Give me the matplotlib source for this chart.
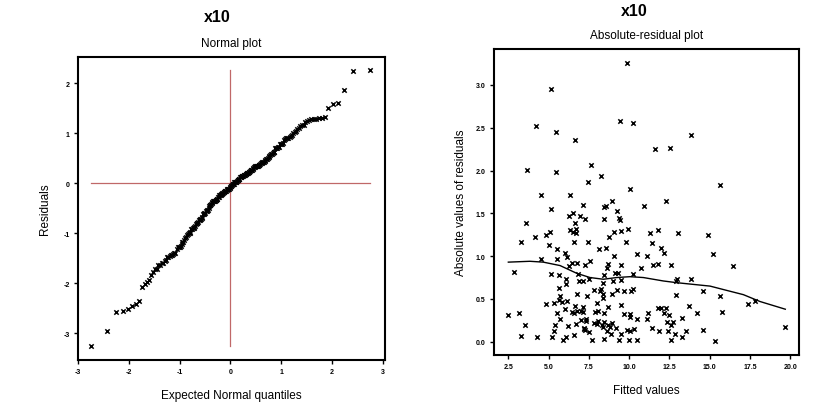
"""
残差诊断图: 正态图 + 绝对残差图
"""
from statistics import NormalDist

import numpy as np
from matplotlib import pyplot as plt

plt.rcParams['font.family'] = ['Liberation Sans', 'DejaVu Sans']
plt.rcParams['axes.unicode_minus'] = False

# 拟合值和残差
fitted = [
    9.89, 5.17, 9.41, 10.22, 4.24, 5.46, 13.84, 6.62, 12.55, 11.58,
    7.65, 3.68, 5.44, 8.25, 7.44, 15.66, 10.07, 4.55, 6.35, 8.91,
    12.28, 7.15, 10.94, 8.46, 8.58, 5.17, 9.26, 6.53,
    6.27, 6.97, 9.37, 8.46, 7.26, 9.43, 3.62, 6.62, 9.93, 11.79,
    6.72, 6.35, 9.47, 9.04, 5.07, 6.70, 11.28, 13.03, 14.91, 4.84,
    6.53, 4.15, 8.77, 3.27, 7.47, 9.80, 6.57, 11.39, 5.03, 8.13,
    8.54, 12.00, 5.50, 5.99, 12.14, 15.18, 10.46, 11.08, 9.06,
    6.16, 5.52, 4.55, 7.55, 6.48, 6.76, 7.24, 9.49, 11.49, 11.76,
    8.69, 12.62, 6.24, 16.44, 10.74, 8.60, 2.85, 5.13, 5.67, 6.80,
    10.22, 9.15, 9.33, 8.44, 6.06, 7.50, 9.47, 8.99, 7.15, 6.88,
    8.35, 12.99, 13.84, 12.93, 6.10, 5.62, 10.26, 8.27, 9.24, 7.81,
    9.68, 10.13, 8.21, 14.58, 8.93, 6.74, 8.35, 12.89, 5.72, 7.36,
    15.62, 8.37,
    5.62, 6.16, 17.83, 4.86, 5.36, 5.84, 8.01, 9.49, 17.37, 13.74,
    6.66, 8.69, 7.15, 11.82, 12.00, 12.27, 6.03, 5.54, 6.45, 6.57,
    6.76, 7.01, 7.15, 7.88, 8.06, 8.46, 11.18, 12.17, 3.18, 14.23,
    15.77, 10.05, 9.66, 12.48, 2.48, 10.08, 7.33, 10.48, 11.08, 13.29,
    5.69, 7.29, 6.98, 8.06, 8.46, 12.36, 12.69, 6.68, 7.79, 8.00,
    8.91, 3.55, 5.42, 8.29, 8.71, 12.57, 6.18, 8.39, 8.81, 19.69,
    7.22, 9.16, 11.44, 7.22, 10.30, 9.89, 14.56, 7.26, 5.34, 8.64,
    10.03, 11.86, 12.43, 13.53, 7.49, 8.89, 6.57, 9.51, 12.82, 3.27,
    4.30, 6.10, 5.20, 13.29, 5.89, 7.67, 8.44, 9.39, 9.99, 10.48,
    12.59, 15.35,
]
residuals = [
    -3.26, -2.95, -2.58, -2.55, -2.52, -2.45, -2.41, -2.36, 2.26, 2.25,
    -2.07, -2.01, -1.98, -1.94, 1.87, -1.83, -1.78, -1.71, -1.72, -1.64,
    -1.64, 1.60, -1.59, 1.58, -1.59, -1.55, -1.53, 1.50,
    -1.47, -1.47, -1.45, -1.43, -1.43, -1.42, -1.39, -1.39, -1.32, 1.31,
    1.32, 1.30, 1.29, 1.28, 1.28, -1.27, 1.27, -1.27, 1.25, -1.25,
    -1.28, 1.22, -1.22, 1.17, -1.17, 1.17, -1.17, 1.15, -1.13, 1.08,
    -1.09, 1.10, -1.08, 1.04, -1.04, 1.03, -1.02, 1.00, -1.00,
    -0.99, 0.97, -0.97, 0.94, -0.92, 0.92, -0.90, 0.90, -0.90, 0.91,
    -0.91, 0.90, -0.88, 0.88, -0.86, 0.86, -0.81, 0.79, -0.78, 0.79,
    -0.79, 0.80, -0.80, 0.78, -0.73, 0.73, -0.72, 0.71, -0.71, 0.71,
    -0.69, 0.73, -0.73, 0.71, -0.67, 0.63, -0.62, 0.62, -0.61, 0.61,
    -0.59, 0.59, -0.59, 0.59, -0.56, 0.56, -0.56, 0.55, -0.54, 0.53,
    -0.53, 0.51,
    -0.49, 0.48, 0.48, -0.44, 0.45, 0.46, -0.45, 0.43, -0.44, 0.42,
    0.42, -0.41, 0.41, -0.40, 0.40, 0.39, -0.38, 0.34, -0.35, 0.34,
    0.36, -0.36, 0.35, -0.35, 0.36, 0.34, -0.34, 0.34, -0.33, 0.33,
    -0.35, 0.32, -0.32, 0.31, -0.31, 0.29, -0.27, 0.26, 0.26, -0.28,
    0.26, -0.24, 0.25, -0.24, 0.23, 0.23, -0.23, 0.21, -0.22, 0.21,
    -0.22, 0.20, -0.20, 0.19, -0.19, 0.19, -0.18, 0.17, -0.17, 0.17,
    -0.16, 0.16, -0.16, 0.15, -0.15, 0.14, -0.14, 0.14, -0.12, 0.13,
    -0.12, 0.13, -0.12, 0.12, -0.11, 0.09, -0.08, 0.09, -0.09, 0.07,
    -0.06, 0.06, -0.05, 0.05, -0.02, 0.02, -0.03, 0.02, -0.02, 0.02,
    0.02, -0.01,
]

# 平滑曲线
smooth_x = [2.5, 3.84, 4.67, 5.71, 6.74, 7.57, 8.40, 9.22, 10.05, 10.88,
            12.12, 12.95, 13.98, 15.02, 16.05, 17.09, 18.12, 19.69]
smooth_y = [0.93, 0.94, 0.93, 0.89, 0.80, 0.75, 0.73, 0.75, 0.76, 0.75,
            0.71, 0.69, 0.67, 0.65, 0.60, 0.55, 0.47, 0.38]

resid = np.array(residuals)
n = len(resid)
sorted_resid = np.sort(resid)
quantiles = np.array([NormalDist().inv_cdf((i - 0.375) / (n + 0.25)) for i in range(1, n + 1)])

fig = plt.figure(figsize=(8.21, 4.10), dpi=100)

red = "#c06868"

# 左图: 正态图
ax1 = fig.add_axes([0.095, 0.1195, 0.374, 0.739])
ax1.plot([quantiles.min(), quantiles.max()], [0, 0], color=red, lw=0.9, zorder=1)
ax1.plot([0, 0], [sorted_resid.min(), sorted_resid.max()], color=red, lw=0.9, zorder=1)
ax1.scatter(quantiles, sorted_resid, marker="x", s=10, color="black", linewidths=1.1, zorder=2)
ax1.set_xlim(-3.0, 3.05)
ax1.set_ylim(-3.53, 2.52)
ax1.set_xticks([-3, -2, -1, 0, 1, 2, 3])
ax1.set_yticks([-3, -2, -1, 0, 1, 2])
ax1.set_title("Normal plot", fontsize=8.5, pad=8)
ax1.set_xlabel("Expected Normal quantiles", fontsize=8.5, labelpad=10)
ax1.set_ylabel("Residuals", fontsize=8.5, labelpad=9)
fig.text(0.265, 0.958, "x10", fontsize=11.5, fontweight="bold", ha="center", va="center")

# 右图: 绝对残差图
ax2 = fig.add_axes([0.6017, 0.1317, 0.3715, 0.7463])
ax2.scatter(fitted, np.abs(resid), marker="x", s=10, color="black", linewidths=1.1)
ax2.plot(smooth_x, smooth_y, color="black", lw=1.0)
ax2.set_xlim(1.61, 20.54)
ax2.set_ylim(-0.155, 3.42)
ax2.set_xticks(np.arange(2.5, 20.1, 2.5))
ax2.set_yticks(np.arange(0, 3.01, 0.5))
ax2.xaxis.set_major_formatter("{x:.1f}")
ax2.yaxis.set_major_formatter("{x:.1f}")
ax2.set_title("Absolute-residual plot", fontsize=8.5, pad=8)
ax2.set_xlabel("Fitted values", fontsize=8.5, labelpad=10)
ax2.set_ylabel("Absolute values of residuals", fontsize=8.5, labelpad=6)
fig.text(0.772, 0.973, "x10", fontsize=11.5, fontweight="bold", ha="center", va="center")

for ax in (ax1, ax2):
    for sp in ax.spines.values():
        sp.set_linewidth(1.5)
    ax.tick_params(direction="out", length=3, width=1, labelsize=5, pad=3)
    for lab in ax.get_xticklabels() + ax.get_yticklabels():
        lab.set_fontweight("bold")

plt.savefig("out.png", dpi=100)
